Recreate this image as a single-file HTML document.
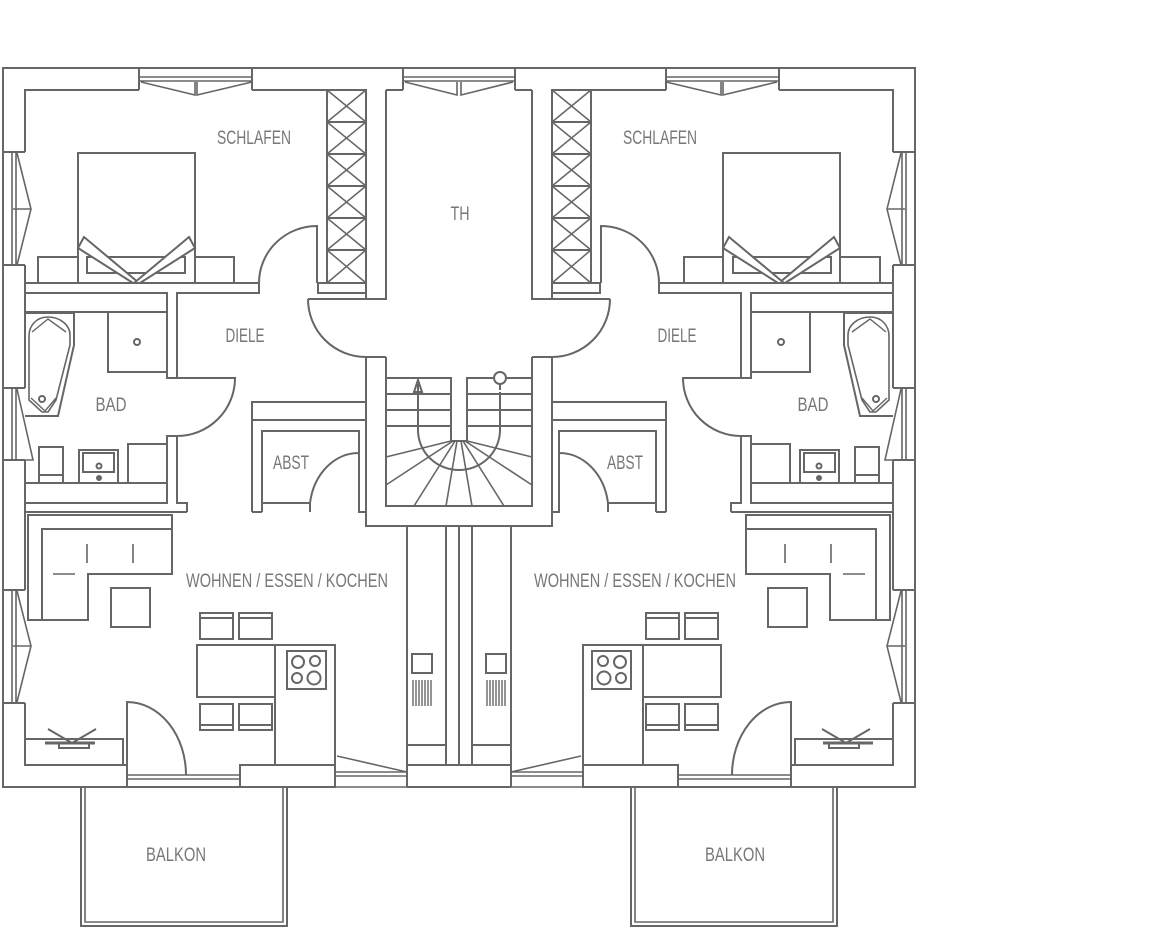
<!DOCTYPE html>
<html><head><meta charset="utf-8">
<style>
html,body{margin:0;padding:0;background:#fff;}
svg{display:block;}
text{font-family:"Liberation Sans",sans-serif;font-size:19px;fill:#777;}
</style></head>
<body>
<svg width="1176" height="946" viewBox="0 0 1176 946" xmlns="http://www.w3.org/2000/svg">
<defs>
<g id="half" fill="none" stroke="#666" stroke-width="2">
  <path d="M459,68 H3 V787 H127"/>
  <path d="M25,152 V90 H139 M252,90 H366 M386,90 H403"/>
  <path d="M139,68 V90 M252,68 V90 M403,68 V90"/>
  <path d="M139,77 H252 M139,81 H252 M141,82 L195,95 V82 M252,82 L197,95 V82" stroke-width="1.6"/>
  <path d="M403,77 H459 M403,81 H459 M405,82 L457,95 V82" stroke-width="1.6"/>
  <path d="M3,152 H25 M3,265 H25 M25,265 V388 M3,388 H25 M3,460 H25 M25,460 V590 M3,590 H25 M3,703 H25 M25,703 V765"/>
  <path d="M12,152 V265 M16,152 V265 M17,153 L31,209 L17,265 M13,209 H31" stroke-width="1.6"/>
  <path d="M12,388 V460 M16,388 V460 M17,389 L33,460 H16" stroke-width="1.6"/>
  <path d="M12,590 V703 M16,590 V703 M17,591 L31,646 L17,702 M13,646 H31" stroke-width="1.6"/>
  <path d="M25,765 H127 V787"/>
  <path d="M127,775 H240 M127,779 H240" stroke-width="1.6"/>
  <rect x="240" y="765" width="95" height="22"/>
  <path d="M335,787 H407 M335,772 H407 M335,776 H407 M337,756 L407,772" stroke-width="1.6"/>
  <path d="M335,756 V765"/>
  <path d="M407,765 H459 M407,787 H459 M407,765 V787"/>
  <rect x="81" y="787" width="206" height="139"/>
  <path d="M85,787 V922 H283 V787" stroke-width="1.6"/>
  <rect x="327" y="90" width="39" height="193"/>
  <path d="M327,122 H366 M327,154 H366 M327,186 H366 M327,218 H366 M327,250 H366"/>
  <path d="M327,90 L366,122 M366,90 L327,122 M327,122 L366,154 M366,122 L327,154 M327,154 L366,186 M366,154 L327,186 M327,186 L366,218 M366,186 L327,218 M327,218 L366,250 M366,218 L327,250 M327,250 L366,283 M366,250 L327,283" stroke-width="1.5"/>
  <rect x="318" y="283" width="48" height="10"/>
  <path d="M366,90 V299 H386 V90"/>
  <path d="M25,283 H259 M317,283 V226 A58,57 0 0 0 259,283 V293 H177 V378"/>
  <rect x="78" y="153" width="117" height="130"/>
  <rect x="38" y="257" width="40" height="26"/>
  <rect x="195" y="257" width="39" height="26"/>
  <rect x="87" y="257" width="98" height="16"/>
  <path d="M84,237 L78,248 L133,283 L139,283 Z" fill="#fff"/>
  <path d="M189,237 L195,248 L140,283 L134,283 Z" fill="#fff"/>
  <rect x="25" y="293" width="142" height="19"/>
  <path d="M167,293 V378 H235 A58,58 0 0 1 177,436 H167 V503 M177,436 V503 H187 V512"/>
  <path d="M177,293 V378"/>
  <rect x="25" y="483" width="142" height="20"/>
  <path d="M25,503 V512 H187"/>
  <path d="M25,313 H74 V345 L58,416 H25"/>
  <path d="M48,317 C36,317 29,326 29,336 V400 L42,412 H48 L56,400 L70,345 V335 C70,325 60,317 48,317 Z" stroke-width="1.6"/>
  <path d="M32,332 L48,319 L66,332 M31,398 L45,411 L56,398" stroke-width="1.4"/>
  <circle cx="42" cy="399" r="3"/>
  <rect x="108" y="312" width="59" height="60"/>
  <circle cx="137" cy="342" r="3"/>
  <rect x="39" y="447" width="24" height="36"/>
  <path d="M39,475 H63"/>
  <rect x="79" y="450" width="39" height="33"/>
  <rect x="83" y="453" width="31" height="19"/>
  <circle cx="99" cy="466" r="2.5"/>
  <circle cx="99" cy="478" r="2" fill="#666"/>
  <rect x="128" y="444" width="39" height="39"/>
  <path d="M308,299 H366 M308,299 A58,58 0 0 0 366,357"/>
  <path d="M366,357 V526 H459 M386,357 V506 H459 M366,357 H386"/>
  <path d="M386,378 H451 V441 H459"/>
  <path d="M386,394 H451 M386,410 H451 M386,426 H451"/>
  <path d="M386,457 L451,441 M386,485 L453,441 M414,506 L455,441 M446,506 L457,441" stroke-width="1.6"/>
  <path d="M418,384 V430 A41,40 0 0 0 459,470"/>
  <path d="M252,512 V402 H366 M252,420 H366 M262,512 V431 H359 V453 M262,503 H310 M310,512 V503 A49,59 0 0 1 359,453 V512 H366"/>
  <path d="M252,512 H262"/>
  <path d="M407,526 V765 M446,526 V765 M459,526 V765 M407,745 H446"/>
  <rect x="412" y="654" width="20" height="19"/>
  <path d="M413,680 V706 M416,680 V706 M419,680 V706 M422,680 V706 M425,680 V706 M428,680 V706 M431,680 V706" stroke-width="1.4"/>
  <path d="M28,515 H172 V574 H88 V620 H28 Z M28,515 V620"/>
  <path d="M42,620 V529 H172" />
  <path d="M87,544 V563 M133,544 V563 M53,574 H75" stroke-width="1.6"/>
  <rect x="111" y="588" width="39" height="39"/>
  <rect x="200" y="613" width="33" height="26"/><path d="M200,618 H233"/>
  <rect x="239" y="613" width="33" height="26"/><path d="M239,618 H272"/>
  <rect x="197" y="645" width="78" height="52"/>
  <rect x="200" y="704" width="33" height="26"/><path d="M200,725 H233"/>
  <rect x="239" y="704" width="33" height="26"/><path d="M239,725 H272"/>
  <path d="M275,765 V645 H335 V765"/>
  <rect x="287" y="651" width="39" height="38"/>
  <circle cx="298" cy="662" r="6"/><circle cx="315" cy="661" r="5"/>
  <circle cx="297" cy="678" r="5"/><circle cx="314" cy="678" r="6.5"/>
  <rect x="25" y="739" width="98" height="26"/>
  <path d="M48,729 L72,743 L96,729"/>
  <path d="M45,743 H95" stroke-width="3"/>
  <rect x="59" y="743" width="30" height="5"/>
  <path d="M127,765 V702 A59,73 0 0 1 186,775"/>
</g>
</defs>
<use href="#half"/>
<use href="#half" transform="translate(918,0) scale(-1,1)"/>
<g fill="none" stroke="#666" stroke-width="2">
  <path d="M414,392 L418,380 L422,392 Z"/>
  <rect x="496" y="390" width="8" height="2" fill="#fff" stroke="none"/>
  <circle cx="500" cy="378" r="6" fill="#fff"/>
</g>
<text x="254" y="144" text-anchor="middle" textLength="74" lengthAdjust="spacingAndGlyphs">SCHLAFEN</text>
<text x="660" y="144" text-anchor="middle" textLength="74" lengthAdjust="spacingAndGlyphs">SCHLAFEN</text>
<text x="460" y="220" text-anchor="middle" textLength="19" lengthAdjust="spacingAndGlyphs">TH</text>
<text x="245" y="342" text-anchor="middle" textLength="39" lengthAdjust="spacingAndGlyphs">DIELE</text>
<text x="677" y="342" text-anchor="middle" textLength="39" lengthAdjust="spacingAndGlyphs">DIELE</text>
<text x="111" y="411" text-anchor="middle" textLength="31" lengthAdjust="spacingAndGlyphs">BAD</text>
<text x="813" y="411" text-anchor="middle" textLength="31" lengthAdjust="spacingAndGlyphs">BAD</text>
<text x="291" y="469" text-anchor="middle" textLength="36" lengthAdjust="spacingAndGlyphs">ABST</text>
<text x="625" y="469" text-anchor="middle" textLength="36" lengthAdjust="spacingAndGlyphs">ABST</text>
<text x="287" y="587" text-anchor="middle" textLength="202" lengthAdjust="spacingAndGlyphs">WOHNEN / ESSEN / KOCHEN</text>
<text x="635" y="587" text-anchor="middle" textLength="202" lengthAdjust="spacingAndGlyphs">WOHNEN / ESSEN / KOCHEN</text>
<text x="176" y="861" text-anchor="middle" textLength="60" lengthAdjust="spacingAndGlyphs">BALKON</text>
<text x="735" y="861" text-anchor="middle" textLength="60" lengthAdjust="spacingAndGlyphs">BALKON</text>
</svg>
</body></html>
